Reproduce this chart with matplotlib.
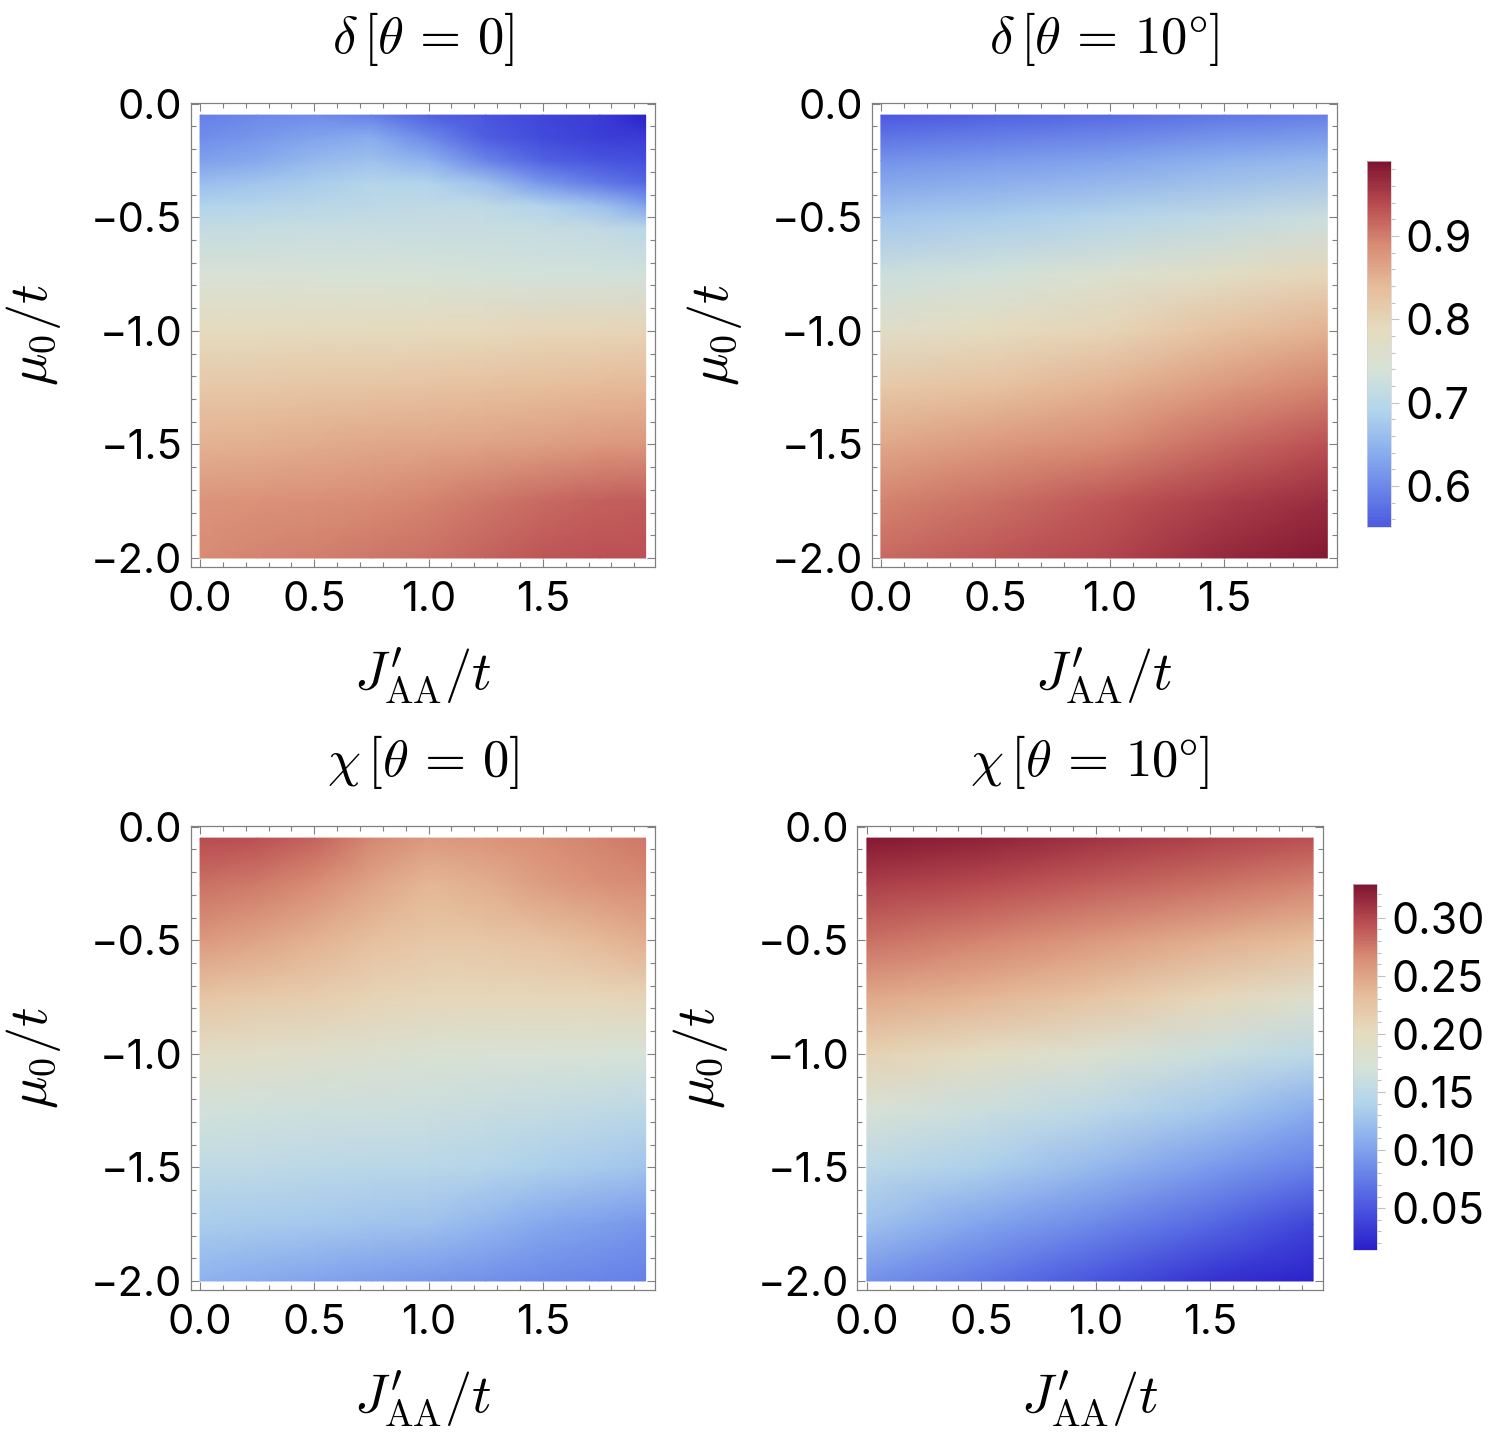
import numpy as np
import matplotlib
matplotlib.use('Agg')
import matplotlib.pyplot as plt
from matplotlib.colors import LinearSegmentedColormap, Normalize, ListedColormap
from matplotlib.ticker import MultipleLocator, FuncFormatter, FixedLocator
from matplotlib.cm import ScalarMappable

plt.rcParams['font.family'] = ['Inter', 'DejaVu Sans']
plt.rcParams['mathtext.fontset'] = 'cm'

# ---------------- data ----------------
J_fine = [0.0, 0.25, 0.5, 0.75, 1.0, 1.25, 1.5, 1.75, 1.95]
J_coarse = [0.0, 0.5, 1.0, 1.5, 1.95]
mu_fine = [-0.05, -0.15, -0.25, -0.35, -0.45, -0.55, -0.75, -1.0, -1.25,
           -1.5, -1.75, -2.0]
mu_vals = [-0.05, -0.25, -0.5, -0.75, -1.0, -1.25, -1.5, -1.75, -2.0]

delta_theta0 = [
    [0.590, 0.600, 0.605, 0.590, 0.560, 0.545, 0.530, 0.520, 0.495],
    [0.605, 0.615, 0.630, 0.640, 0.600, 0.555, 0.535, 0.525, 0.520],
    [0.625, 0.635, 0.655, 0.665, 0.645, 0.595, 0.560, 0.545, 0.540],
    [0.660, 0.670, 0.680, 0.695, 0.690, 0.665, 0.615, 0.585, 0.565],
    [0.690, 0.695, 0.700, 0.705, 0.710, 0.708, 0.690, 0.665, 0.630],
    [0.715, 0.717, 0.720, 0.720, 0.720, 0.720, 0.718, 0.712, 0.700],
    [0.745, 0.745, 0.743, 0.742, 0.740, 0.738, 0.736, 0.735, 0.733],
    [0.785, 0.786, 0.787, 0.788, 0.790, 0.792, 0.795, 0.797, 0.800],
    [0.820, 0.822, 0.824, 0.826, 0.828, 0.832, 0.836, 0.840, 0.842],
    [0.850, 0.853, 0.856, 0.860, 0.862, 0.866, 0.870, 0.875, 0.878],
    [0.880, 0.883, 0.886, 0.890, 0.895, 0.905, 0.915, 0.922, 0.925],
    [0.890, 0.895, 0.900, 0.905, 0.910, 0.920, 0.930, 0.935, 0.935],
]

delta_theta10 = [
    [0.550, 0.560, 0.570, 0.580, 0.590],
    [0.610, 0.620, 0.630, 0.645, 0.655],
    [0.670, 0.680, 0.695, 0.710, 0.725],
    [0.725, 0.735, 0.755, 0.775, 0.795],
    [0.770, 0.785, 0.800, 0.830, 0.850],
    [0.820, 0.830, 0.850, 0.875, 0.895],
    [0.860, 0.875, 0.890, 0.915, 0.935],
    [0.895, 0.910, 0.930, 0.950, 0.965],
    [0.915, 0.930, 0.945, 0.970, 0.985],
]

chi_theta0 = [
    [0.297, 0.294, 0.285, 0.268, 0.257, 0.260, 0.265, 0.270, 0.275],
    [0.279, 0.274, 0.266, 0.250, 0.237, 0.243, 0.255, 0.262, 0.266],
    [0.257, 0.250, 0.241, 0.230, 0.222, 0.224, 0.228, 0.236, 0.244],
    [0.225, 0.220, 0.216, 0.210, 0.206, 0.206, 0.206, 0.207, 0.209],
    [0.194, 0.190, 0.187, 0.182, 0.178, 0.176, 0.175, 0.173, 0.172],
    [0.168, 0.166, 0.165, 0.163, 0.162, 0.159, 0.156, 0.152, 0.149],
    [0.153, 0.151, 0.149, 0.148, 0.146, 0.142, 0.137, 0.132, 0.127],
    [0.134, 0.132, 0.130, 0.127, 0.124, 0.115, 0.105, 0.098, 0.093],
    [0.112, 0.107, 0.102, 0.097, 0.093, 0.088, 0.083, 0.080, 0.077],
]

chi_theta10 = [
    [0.326, 0.320, 0.310, 0.301, 0.294],
    [0.304, 0.298, 0.288, 0.279, 0.269],
    [0.279, 0.269, 0.257, 0.244, 0.231],
    [0.247, 0.238, 0.225, 0.206, 0.187],
    [0.212, 0.197, 0.181, 0.162, 0.149],
    [0.175, 0.162, 0.149, 0.130, 0.108],
    [0.149, 0.137, 0.118, 0.096, 0.077],
    [0.124, 0.102, 0.083, 0.061, 0.039],
    [0.090, 0.071, 0.049, 0.027, 0.017],
]

delta_range = (0.49, 0.99)
delta_bar = (0.551, 0.99)
chi_range = (0.014, 0.329)

titles = [r'$\delta\,[\theta\,=\,0]$', r'$\delta\,[\theta\,=\,10\degree]$',
          r'$\chi\,[\theta\,=\,0]$', r'$\chi\,[\theta\,=\,10\degree]$']
xlabel = r"$J^{\prime}_{\mathrm{AA}}/t$"
ylabel = r'$\mu_0/t$'

# ---------------- colormap ----------------
cm_nodes = [0.0, 0.1, 0.2, 0.3, 0.4, 0.5, 0.6, 0.7, 0.8, 0.9, 1.0]
cm_colors = ['#2a1ec8', '#4550de', '#6680e8', '#8aaeee', '#b2d4ec', '#d6e2d8',
             '#e6dabd', '#e6bc9a', '#d88c74', '#b84a50', '#7e1430']
cmap = LinearSegmentedColormap.from_list('thermo', list(zip(cm_nodes, cm_colors)))

W, H = 1495, 1441
fig = plt.figure(figsize=(W / 100, H / 100), dpi=100)


def rect(x0, y0, x1, y1):
    return [x0 / W, 1 - y1 / H, (x1 - x0) / W, (y1 - y0) / H]


def fmt(n):
    return FuncFormatter(lambda v, p: (f'{v:.{n}f}').replace('-', '\u2212'))


GRAY = '#808080'
TICK_FS = 30


def panel(r, J, mu, Z, rng, title):
    ax = fig.add_axes(rect(*r))
    X, Y = np.meshgrid(J, mu)
    ax.pcolormesh(X, Y, np.array(Z), shading='gouraud', cmap=cmap,
                  norm=Normalize(*rng))
    ax.set_xlim(-0.041, 1.991)
    ax.set_ylim(-2.041, 0.002)
    ax.xaxis.set_major_locator(FixedLocator([0.0, 0.5, 1.0, 1.5]))
    ax.yaxis.set_major_locator(FixedLocator([0.0, -0.5, -1.0, -1.5, -2.0]))
    ax.xaxis.set_minor_locator(MultipleLocator(0.1))
    ax.yaxis.set_minor_locator(MultipleLocator(0.1))
    ax.xaxis.set_major_formatter(fmt(1))
    ax.yaxis.set_major_formatter(fmt(1))
    ax.tick_params(which='both', direction='in', top=True, right=True,
                   color=GRAY, width=0.8, labelsize=TICK_FS)
    ax.tick_params(which='major', length=6)
    ax.tick_params(axis='x', which='major', pad=10)
    ax.tick_params(axis='y', which='major', pad=6)
    ax.tick_params(which='minor', length=3.5)
    for s in ax.spines.values():
        s.set_color(GRAY)
        s.set_linewidth(0.9)
    ax.set_title(title, fontsize=38, pad=36)
    ax.set_xlabel(xlabel, fontsize=39)
    ax.set_ylabel(ylabel, fontsize=39)
    ax.xaxis.set_label_coords(0.5, -0.17)
    ax.yaxis.set_label_coords(-0.274, 0.5)
    return ax


panel((190.7, 103.3, 655.0, 567.3), J_fine, mu_fine, delta_theta0, delta_range, titles[0])
panel((871.5, 103.3, 1336.7, 567.3), J_coarse, mu_vals, delta_theta10, delta_range, titles[1])
panel((190.7, 826.3, 655.0, 1290.3), J_fine, mu_vals, chi_theta0, chi_range, titles[2])
panel((857.5, 826.3, 1322.5, 1290.3), J_coarse, mu_vals, chi_theta10, chi_range, titles[3])


def colorbar(r, rng, bar, major, minor, nd):
    cax = fig.add_axes(rect(*r))
    t0 = (bar[0] - rng[0]) / (rng[1] - rng[0])
    t1 = (bar[1] - rng[0]) / (rng[1] - rng[0])
    sub = ListedColormap(cmap(np.linspace(t0, t1, 256)))
    cb = fig.colorbar(ScalarMappable(norm=Normalize(*bar), cmap=sub), cax=cax)
    cb.outline.set_edgecolor('#d0d0d0')
    cb.outline.set_linewidth(0.5)
    cb.ax.yaxis.set_major_locator(MultipleLocator(major))
    cb.ax.yaxis.set_minor_locator(MultipleLocator(minor))
    cb.ax.yaxis.set_major_formatter(fmt(nd))
    cb.ax.tick_params(which='both', color='#c0c0c0', width=0.8, labelsize=TICK_FS + 1)
    cb.ax.tick_params(which='major', length=6, pad=4)
    cb.ax.tick_params(which='minor', length=3)
    return cb


colorbar((1367, 161, 1391, 527), delta_range, delta_bar, 0.1, 0.02, 1)
colorbar((1353, 884, 1377, 1250), chi_range, chi_range, 0.05, 0.01, 2)

fig.savefig('out.png', dpi=100)
